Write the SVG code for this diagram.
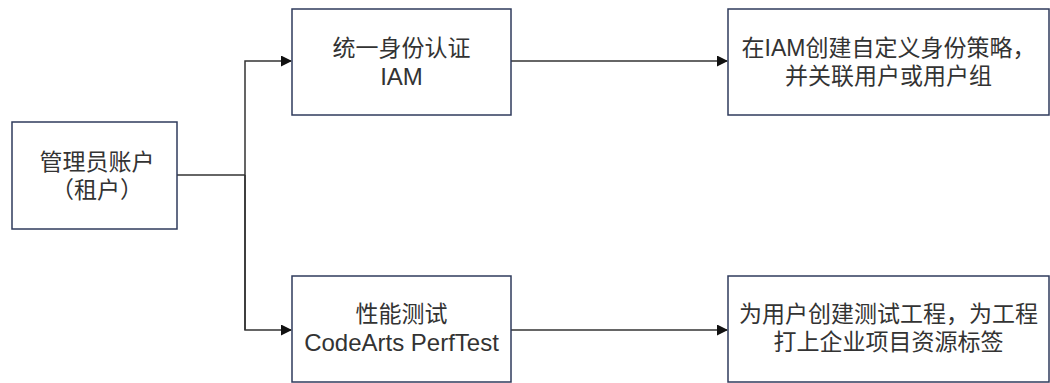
<svg xmlns="http://www.w3.org/2000/svg" width="1050" height="383" viewBox="0 0 1050 383">
<style>
.box{fill:#fff;stroke:#2f3b5c;stroke-width:1.5}
.t{font-family:"Liberation Sans","Noto Sans CJK SC",sans-serif;font-size:23px;fill:#333;text-anchor:middle;dominant-baseline:central}
.l{font-size:24px}
.c{fill:none;stroke:#333;stroke-width:1.5}
</style>
<defs>
<marker id="arr" markerWidth="11" markerHeight="11" refX="10" refY="5.5" orient="auto" markerUnits="userSpaceOnUse">
<path d="M0,0 L11,5.5 L0,11 Z" fill="#111"/>
</marker>
</defs>
<rect width="1050" height="383" fill="#fff"/>
<g id="connectors">
<path class="c" d="M177,175 H245"/>
<path class="c" d="M245,330 V61 H291" marker-end="url(#arr)"/>
<path class="c" d="M245,175 V330 H291" marker-end="url(#arr)"/>
<path class="c" d="M511,61 H727" marker-end="url(#arr)"/>
<path class="c" d="M511,330 H727" marker-end="url(#arr)"/>
</g>
<g id="admin">
<rect class="box" x="12" y="122" width="165" height="107"/>
<text class="t" x="97" y="162">管理员账户</text>
<text class="t" x="97" y="190">（租户）</text>
</g>
<g id="iam">
<rect class="box" x="292" y="9" width="219" height="106"/>
<text class="t" x="401.5" y="48">统一身份认证</text>
<text class="t l" x="401.5" y="76">IAM</text>
</g>
<g id="perftest">
<rect class="box" x="292" y="276" width="219" height="106"/>
<text class="t" x="401.5" y="314">性能测试</text>
<text class="t l" x="401.5" y="342">CodeArts PerfTest</text>
</g>
<g id="iam-policy">
<rect class="box" x="728" y="9" width="321" height="106"/>
<text class="t" x="888.5" y="48">在IAM创建自定义身份策略，</text>
<text class="t" x="888.5" y="76">并关联用户或用户组</text>
</g>
<g id="project-tag">
<rect class="box" x="728" y="276" width="321" height="106"/>
<text class="t" x="888.5" y="314">为用户创建测试工程，为工程</text>
<text class="t" x="888.5" y="342">打上企业项目资源标签</text>
</g>
</svg>
